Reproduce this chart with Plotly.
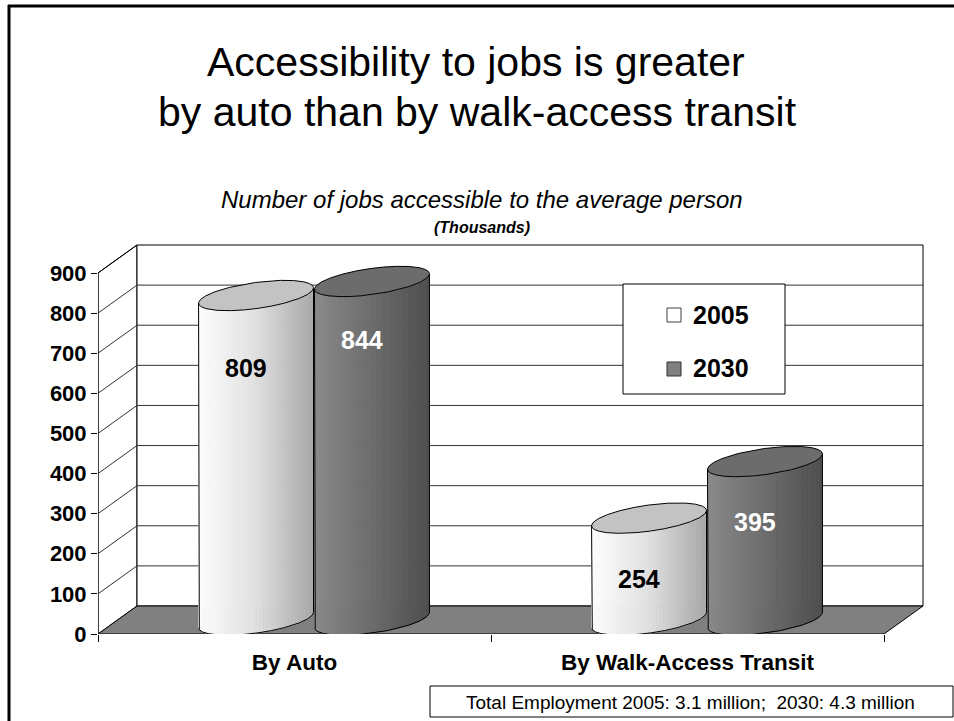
import numpy as np
import plotly.graph_objects as go

# ---- data -------------------------------------------------------------
categories = ["By Auto", "By Walk-Access Transit"]
years = ["2005", "2030"]
jobs_2005 = [809, 254]
jobs_2030 = [844, 395]
y_tick_values = [0, 100, 200, 300, 400, 500, 600, 700, 800, 900]
footnote = "Total Employment 2005: 3.1 million;  2030: 4.3 million"

# ---- page / plot geometry (pixels) ------------------------------------
W, H = 954, 721
L, R, T, B = 98, 924, 240, 634          # plot box
PPX = 393.0                             # px per category unit
PPY = 361.0 / 900.0                     # px per thousand jobs
X_LO = -0.5
X_HI = X_LO + (R - L) / PPX
Y_LO = 0.0
Y_HI = (B - T) / PPY

DEPTH_X = 39.0 / PPX                    # oblique depth of the 3-D box
DEPTH_Y = 28.0 / PPY
Y_MAX = 900

BAR_W = 0.295                           # cylinder diameter in category units
ELL_A, ELL_B, ELL_TILT = 58.0, 13.0, np.radians(8.0)   # ellipse (px)

FONT = "Arial, 'Liberation Sans', sans-serif"
GRID = "#333333"


def paper_x(px):
    return (px - L) / (R - L)


def paper_y(py):
    return (B - py) / (B - T)


fig = go.Figure()


def add_line(xs, ys, color="black", width=1, fill=None, fillcolor=None):
    fig.add_trace(go.Scatter(
        x=xs, y=ys, mode="lines", line=dict(color=color, width=width),
        fill=fill, fillcolor=fillcolor, hoverinfo="skip",
        showlegend=False, cliponaxis=False))


# ---- 3-D box: side wall, back wall, gridlines, floor -------------------
bx0, bx1 = X_LO + DEPTH_X, 1.5 + DEPTH_X
add_line([X_LO, X_LO, bx0, bx0, X_LO], [0, Y_MAX, Y_MAX + DEPTH_Y, DEPTH_Y, 0],
         fill="toself", fillcolor="white")
add_line([bx0, bx1, bx1, bx0, bx0],
         [DEPTH_Y, DEPTH_Y, Y_MAX + DEPTH_Y, Y_MAX + DEPTH_Y, DEPTH_Y],
         fill="toself", fillcolor="white")
for v in y_tick_values[1:-1]:
    add_line([X_LO, bx0, bx1], [v, v + DEPTH_Y, v + DEPTH_Y], color=GRID)
add_line([X_LO, bx0], [Y_MAX, Y_MAX + DEPTH_Y])
# front value axis
add_line([X_LO, X_LO], [0, Y_MAX])
# floor
add_line([X_LO, 1.5, 1.5 + DEPTH_X, bx0, X_LO], [0, 0, DEPTH_Y, DEPTH_Y, 0],
         fill="toself", fillcolor="#808080")

# ---- cylinder geometry ---------------------------------------------------
tt = np.linspace(0, 2 * np.pi, 2001)[:-1]
ex = ELL_A * np.cos(tt) * np.cos(ELL_TILT) - ELL_B * np.sin(tt) * np.sin(ELL_TILT)
ey = ELL_A * np.cos(tt) * np.sin(ELL_TILT) + ELL_B * np.sin(tt) * np.cos(ELL_TILT)
i_l, i_r = int(np.argmin(ex)), int(np.argmax(ex))
order = np.roll(np.arange(len(tt)), -i_l)
exr, eyr = ex[order], ey[order]
k = (i_r - i_l) % len(tt)
arc1_x, arc1_y = exr[:k + 1], eyr[:k + 1]
arc2_x = np.append(exr[k:], exr[0])[::-1]
arc2_y = np.append(eyr[k:], eyr[0])[::-1]
if arc1_y.mean() < arc2_y.mean():
    low_x, low_y = arc1_x, arc1_y
else:
    low_x, low_y = arc2_x, arc2_y
XL, XR = ex.min(), ex.max()


def low_arc(px):
    return np.interp(px, low_x, low_y)


SHADES = {
    "2005": dict(stops=[0.0, 0.12, 0.5, 1.0], levels=[252, 247, 224, 168], top="#c3c3c3"),
    "2030": dict(stops=[0.0, 0.15, 0.5, 1.0], levels=[138, 128, 108, 78], top="#6c6c6c"),
}


def gray(v):
    v = int(round(v))
    return f"rgb({v},{v},{v})"


def cylinder(cx, value, year, n_strips=32):
    base = DEPTH_Y / 2
    top = value + DEPTH_Y / 2
    sh = SHADES[year]
    edges = np.linspace(XL, XR, n_strips + 1)
    for j in range(n_strips):
        e0, e1 = edges[j], edges[j + 1]
        u = ((e0 + e1) / 2 - XL) / (XR - XL)
        col = gray(np.interp(u, sh["stops"], sh["levels"]))
        xs = [cx + e0 / PPX, cx + e1 / PPX, cx + e1 / PPX, cx + e0 / PPX, cx + e0 / PPX]
        ys = [base + low_arc(e0) / PPY, base + low_arc(e1) / PPY,
              top + low_arc(e1) / PPY, top + low_arc(e0) / PPY,
              base + low_arc(e0) / PPY]
        add_line(xs, ys, color=col, width=0.8, fill="toself", fillcolor=col)
    # outline of the body
    ox = np.concatenate([[XL], low_x, [XR]])
    oy_b = base + low_y / PPY
    fig.add_trace(go.Scatter(
        x=cx + ox / PPX,
        y=np.concatenate([[top + low_y[0] / PPY], oy_b, [top + low_y[-1] / PPY]]),
        mode="lines", line=dict(color="black", width=1), hoverinfo="skip",
        showlegend=False, cliponaxis=False))
    # top ellipse
    add_line(np.append(cx + ex / PPX, cx + ex[0] / PPX),
             np.append(top + ey / PPY, top + ey[0] / PPY),
             fill="toself", fillcolor=sh["top"])


# label placement (value units below each top, category-unit nudge)
LABEL_DROP = {("2005", 0): 146, ("2030", 0): 110, ("2005", 1): 117, ("2030", 1): 116}
LABEL_NUDGE = -0.025
LABEL_COLOR = {"2005": "black", "2030": "white"}

annotations = []
for ci, cat in enumerate(categories):
    for si, (year, vals) in enumerate(zip(years, [jobs_2005, jobs_2030])):
        cx = ci + DEPTH_X / 2 + (si - 0.5) * BAR_W
        cylinder(cx, vals[ci], year)
for ci, cat in enumerate(categories):
    for si, (year, vals) in enumerate(zip(years, [jobs_2005, jobs_2030])):
        cx = ci + DEPTH_X / 2 + (si - 0.5) * BAR_W
        annotations.append(dict(
            x=cx + LABEL_NUDGE, y=vals[ci] - LABEL_DROP[(year, ci)],
            xref="x", yref="y", text=str(vals[ci]), showarrow=False,
            xanchor="center", yanchor="middle",
            font=dict(family=FONT, size=25, color=LABEL_COLOR[year], weight="bold")))


def page_text(text, px, py, size, weight="normal", xanchor="center"):
    return dict(text=text, x=paper_x(px), y=paper_y(py), xref="paper", yref="paper",
                xanchor=xanchor, yanchor="middle", showarrow=False,
                font=dict(family=FONT, size=size, color="black", weight=weight))


# ---- titles, legend text, footnote ---------------------------------------
annotations += [
    page_text("Accessibility to jobs is greater", 476, 62, 41),
    page_text("by auto than by walk-access transit", 477, 112, 41),
    page_text("<i>Number of jobs accessible to the average person</i>", 482, 200, 24),
    page_text("<i>(Thousands)</i>", 482, 227, 16, weight="bold"),
    page_text("2005", 691, 315, 25, weight="bold", xanchor="left"),
    page_text("2030", 691, 368, 25, weight="bold", xanchor="left"),
    page_text(footnote, 690, 702, 19),
]

shapes = [
    # legend frame and keys
    dict(type="rect", xref="paper", yref="paper", x0=paper_x(623), x1=paper_x(785),
         y0=paper_y(394), y1=paper_y(284), line=dict(color="black", width=1),
         fillcolor="white", layer="above"),
    dict(type="rect", xref="paper", yref="paper", x0=paper_x(667), x1=paper_x(681),
         y0=paper_y(322), y1=paper_y(308), line=dict(color="#404040", width=1),
         fillcolor="white", layer="above"),
    dict(type="rect", xref="paper", yref="paper", x0=paper_x(667), x1=paper_x(681),
         y0=paper_y(376), y1=paper_y(362), line=dict(color="#303030", width=1),
         fillcolor="#808080", layer="above"),
    # footnote frame
    dict(type="rect", xref="paper", yref="paper", x0=paper_x(430), x1=paper_x(953),
         y0=paper_y(717), y1=paper_y(686), line=dict(color="black", width=1),
         fillcolor="white", layer="below"),
    # page frame (left and top rules)
    dict(type="line", xref="paper", yref="paper", x0=paper_x(9), x1=paper_x(9),
         y0=paper_y(5), y1=paper_y(725), line=dict(color="black", width=3)),
    dict(type="line", xref="paper", yref="paper", x0=paper_x(8), x1=paper_x(960),
         y0=paper_y(6), y1=paper_y(6), line=dict(color="black", width=3)),
]

fig.update_layout(
    width=W, height=H,
    margin=dict(l=L, r=W - R, t=T, b=H - B, pad=0),
    paper_bgcolor="white", plot_bgcolor="rgba(0,0,0,0)",
    showlegend=False,
    annotations=annotations, shapes=shapes,
    xaxis=dict(range=[X_LO, X_HI], tickmode="array", tickvals=[0, 1],
               ticktext=categories, ticks="", showgrid=False, zeroline=False,
               showline=False, ticklabelstandoff=12,
               tickfont=dict(family=FONT, size=22.5, color="black", weight="bold"),
               minor=dict(tickmode="array", tickvals=[-0.5, 0.5, 1.5], ticks="outside",
                          ticklen=7, tickcolor="black", tickwidth=1, showgrid=False),
               fixedrange=True),
    yaxis=dict(range=[Y_LO, Y_HI], tickmode="array", tickvals=y_tick_values,
               ticks="outside", ticklen=6, tickcolor="black", tickwidth=1,
               showgrid=False, zeroline=False, showline=False,
               tickfont=dict(family=FONT, size=22, color="black", weight="bold"),
               fixedrange=True),
)

fig.write_html("out.html", config={"displayModeBar": False})
